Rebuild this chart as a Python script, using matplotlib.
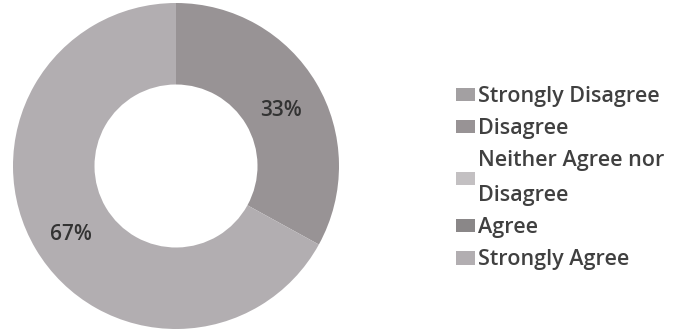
import matplotlib
matplotlib.use("Agg")
import matplotlib.pyplot as plt

categories = ["Strongly Disagree", "Disagree", "Neither Agree nor\nDisagree", "Agree", "Strongly Agree"]
values = [0, 33, 0, 0, 67]
colors = ["#a3a0a2", "#989395", "#c3c0c2", "#8a8788", "#b2aeb1"]

plt.rcParams['font.family'] = ['Open Sans', 'DejaVu Sans']

fig = plt.figure(figsize=(6.77, 3.33), dpi=100)
# donut axes: centre ~ (176,167) px, radius ~163 px
ax = fig.add_axes([13/677, 4/333, 326/677, 326/333])

def pct(p):
    return "%d%%" % round(p) if p > 0 else ""

wedges, texts, autotexts = ax.pie(values, colors=colors, startangle=90, counterclock=False,
                                  autopct=pct, pctdistance=0.75,
                                  wedgeprops=dict(width=0.5, linewidth=0),
                                  textprops=dict(fontsize=15, color="#333333", fontweight="semibold"))
# labels sit a little low in the original
for t in autotexts:
    x, y = t.get_position()
    t.set_position((x, y - 0.04))
ax.set_xlim(-1, 1)
ax.set_ylim(-1, 1)
ax.set_aspect("equal")

leg = fig.legend(wedges, categories, loc="upper left", bbox_to_anchor=(456/677, 1-86/333),
                 frameon=False, prop=dict(size=15.5, weight="semibold"),
                 handlelength=0.88, handleheight=0.6,
                 handletextpad=0.15, labelspacing=0.52, borderpad=0, borderaxespad=0,
                 labelcolor="#404040")
for t in leg.get_texts():
    t.set_linespacing(1.85)

fig.savefig("out.png", dpi=100)
